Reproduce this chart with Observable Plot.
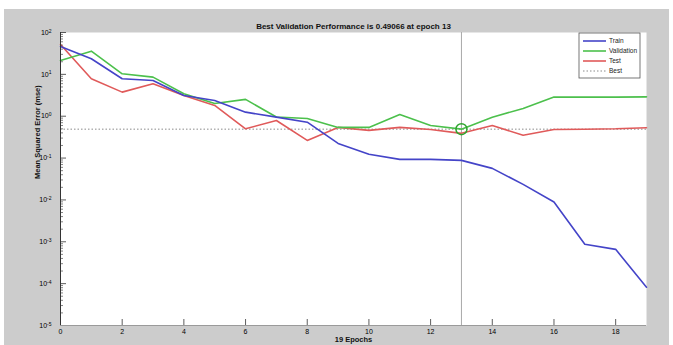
<!DOCTYPE html>
<html>
<head>
<meta charset="utf-8">
<script src="https://cdn.jsdelivr.net/npm/d3@7"></script>
<script src="https://cdn.jsdelivr.net/npm/@observablehq/plot@0.6"></script>
<style>
  html, body { margin: 0; padding: 0; background: #ffffff; }
  #chart svg { display: block; font-family: "Liberation Sans", Arial, sans-serif; }
</style>
</head>
<body>
<div id="chart"></div>
<script>
// ---- data ----
const epochs = [0,1,2,3,4,5,6,7,8,9,10,11,12,13,14,15,16,17,18,19];
const train = [46.3, 23.6, 7.85, 7.14, 3.13, 2.38, 1.25, 0.95, 0.72, 0.224, 0.123, 0.093, 0.093, 0.088, 0.0568, 0.0235, 0.0089, 0.00087, 0.00066, 0.000082];
const validation = [21.5, 35.8, 10.3, 8.57, 3.44, 2.02, 2.52, 0.96, 0.885, 0.54, 0.54, 1.10, 0.60, 0.49066, 0.95, 1.53, 2.86, 2.86, 2.86, 2.9];
const test = [51.7, 7.85, 3.76, 5.97, 3.13, 1.81, 0.50, 0.79, 0.264, 0.54, 0.46, 0.54, 0.48, 0.39, 0.60, 0.35, 0.48, 0.49, 0.50, 0.53];
const bestEpoch = 13;
const bestPerf = 0.49066;
const xTicks = [0,2,4,6,8,10,12,14,16,18];
const yTicks = [1e-5,1e-4,1e-3,1e-2,1e-1,1,10,100];
const yExponents = ["-5","-4","-3","-2","-1","0","1","2"];
const titleText = "Best Validation Performance is 0.49066 at epoch 13";
const xLabel = "19 Epochs";
const yLabel = "Mean Squared Error (mse)";
const seriesNames = ["Train", "Validation", "Test", "Best"];
const seriesColors = ["#4444c8", "#4cc04c", "#e05a5a", "#8a8a8a"];

const rows = (vals) => epochs.map((e, i) => ({epoch: e, value: vals[i]}));
const minorTicks = [];
for (let k = -5; k < 2; k++) for (let m = 2; m <= 9; m++) minorTicks.push(m * Math.pow(10, k));

const W = 673, H = 345;
const mL = 60, mR = 27, mT = 32, mB = 20;
const plotW = W - mL - mR, plotH = H - mT - mB;

const chart = Plot.plot({
  width: W, height: H,
  marginLeft: mL, marginRight: mR, marginTop: mT, marginBottom: mB,
  style: {background: "transparent", fontFamily: "Liberation Sans, Arial, sans-serif"},
  x: {domain: [0, 19]},
  y: {type: "log", domain: [1e-5, 1e2]},
  marks: [
    Plot.frame({fill: "white", stroke: "none"}),
    Plot.ruleY([bestPerf], {stroke: seriesColors[3], strokeDasharray: "1.5,2", strokeWidth: 1}),
    Plot.ruleX([bestEpoch], {stroke: "#a8a8a8", strokeWidth: 1}),
    Plot.line(rows(test), {x: "epoch", y: "value", stroke: seriesColors[2], strokeWidth: 1.6}),
    Plot.line(rows(validation), {x: "epoch", y: "value", stroke: seriesColors[1], strokeWidth: 1.6}),
    Plot.line(rows(train), {x: "epoch", y: "value", stroke: seriesColors[0], strokeWidth: 1.6}),
    Plot.dot([{epoch: bestEpoch, value: bestPerf}], {x: "epoch", y: "value", r: 5.5, stroke: "#2ea52e", strokeWidth: 1.5, fill: "none"}),
    // inward ticks
    Plot.tickX(xTicks, {x: d => d, insetTop: plotH - 6, stroke: "#333", strokeWidth: 0.8}),
    Plot.tickY(yTicks, {y: d => d, insetRight: plotW - 6, stroke: "#333", strokeWidth: 0.8}),
    Plot.tickY(minorTicks, {y: d => d, insetRight: plotW - 3, stroke: "#333", strokeWidth: 0.6}),
    // axis lines
    Plot.ruleY([1e-5], {stroke: "#9a9a9a", strokeWidth: 1}),
    Plot.ruleX([0], {stroke: "#333", strokeWidth: 1}),
    Plot.axisX({ticks: xTicks, tickSize: 0, tickPadding: 4, fontSize: 7, label: null, tickFormat: d => String(d)}),
    Plot.axisY({ticks: yTicks, tickSize: 0, tickPadding: 9, fontSize: 7, label: null,
      tickFormat: d => "10^" + yExponents[yTicks.indexOf(d)]}),
    Plot.text([titleText], {text: d => d, frameAnchor: "top", dy: -9, fontSize: 8, fontWeight: "bold", fill: "#111"}),
    Plot.text([xLabel], {text: d => d, frameAnchor: "bottom", dy: 16, fontSize: 7.5, fontWeight: "bold", fill: "#111"}),
    Plot.text([yLabel], {text: d => d, frameAnchor: "left", dx: -23, rotate: -90, fontSize: 7.5, fontWeight: "bold", fill: "#111"})
  ]
});

const svg = d3.select(chart);
// figure gray background
svg.insert("rect", ":first-child")
  .attr("x", 4).attr("y", 9).attr("width", 665).attr("height", H - 9)
  .attr("fill", "#cccccc");

// render y tick labels as 10 with a raised exponent
svg.selectAll("text").each(function() {
  const t = d3.select(this);
  const s = t.text();
  const m = /^10\^(-?\d)$/.exec(s);
  if (!m) return;
  t.text("");
  t.attr("text-anchor", "end");
  t.append("tspan").text("10");
  t.append("tspan").attr("dy", "-0.45em").attr("font-size", 5).text(m[1]);
});

// legend box
const lg = svg.append("g").attr("transform", "translate(579,33)");
lg.append("rect").attr("width", 61).attr("height", 45)
  .attr("fill", "white").attr("stroke", "#555").attr("stroke-width", 0.8);
seriesNames.forEach((name, i) => {
  const yy = 8 + i * 10;
  lg.append("line").attr("x1", 4).attr("x2", 27).attr("y1", yy).attr("y2", yy)
    .attr("stroke", seriesColors[i]).attr("stroke-width", i === 3 ? 1 : 1.6)
    .attr("stroke-dasharray", i === 3 ? "1.5,2" : null);
  lg.append("text").attr("x", 30).attr("y", yy).attr("dy", "0.35em")
    .attr("text-anchor", "start")
    .attr("font-size", 6.5).attr("fill", "#222").text(name);
});

document.getElementById("chart").appendChild(chart);
</script>
</body>
</html>
